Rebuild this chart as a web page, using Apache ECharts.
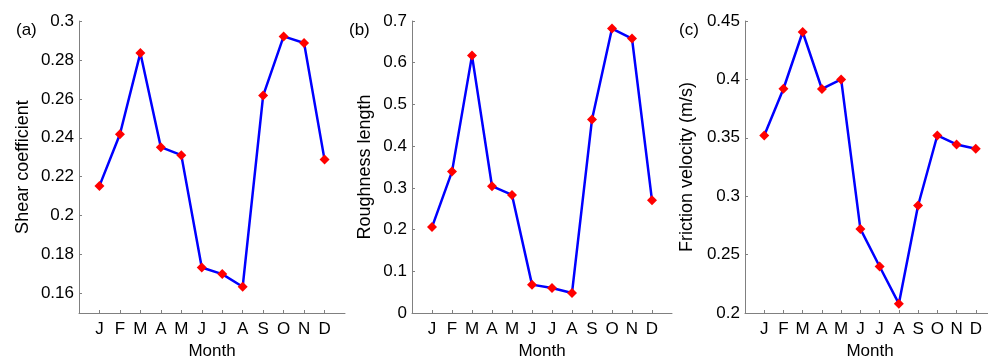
<!DOCTYPE html>
<html>
<head>
<meta charset="utf-8">
<script src="https://cdn.jsdelivr.net/npm/echarts@6/dist/echarts.min.js"></script>
<style>
  html, body { margin: 0; padding: 0; background: #fff; }
  #chart { width: 988px; height: 357px; }
</style>
</head>
<body>
<div id="chart"></div>
<script>
// month index 1..12 on a 0..13 axis, like the MATLAB figure
const months = ['J', 'F', 'M', 'A', 'M', 'J', 'J', 'A', 'S', 'O', 'N', 'D'];
const monthPos = [1, 2, 3, 4, 5, 6, 7, 8, 9, 10, 11, 12];

const shearCoef = [0.2153, 0.2418, 0.2836, 0.2352, 0.2311, 0.1734, 0.1700, 0.1635, 0.2617, 0.2921, 0.2887, 0.2288];
const roughness = [0.206, 0.339, 0.617, 0.304, 0.283, 0.068, 0.060, 0.048, 0.464, 0.682, 0.658, 0.270];
const frictionVel = [0.352, 0.392, 0.4406, 0.3918, 0.400, 0.272, 0.2398, 0.208, 0.292, 0.352, 0.3443, 0.3406];

const shearTicks = [0.16, 0.18, 0.2, 0.22, 0.24, 0.26, 0.28, 0.3];
const roughTicks = [0, 0.1, 0.2, 0.3, 0.4, 0.5, 0.6, 0.7];
const fricTicks = [0.2, 0.25, 0.3, 0.35, 0.4, 0.45];

const FONT = 'Liberation Sans, Arial, sans-serif';
const AXIS_COLOR = '#808080';

const chart = echarts.init(document.getElementById('chart'));

function xAxisFor(idx) {
  return {
    type: 'value',
    gridIndex: idx,
    min: 0,
    max: 13,
    name: 'Month',
    nameLocation: 'middle',
    nameGap: 28,
    nameTextStyle: { color: '#000', fontSize: 17, fontFamily: FONT },
    axisLine: { lineStyle: { color: AXIS_COLOR, width: 1 } },
    axisTick: { inside: true, length: 3, lineStyle: { color: AXIS_COLOR }, customValues: monthPos },
    axisLabel: {
      color: '#000', fontSize: 17, fontFamily: FONT, margin: 8,
      customValues: monthPos,
      formatter: (v) => months[Math.round(v) - 1] || ''
    },
    splitLine: { show: false }
  };
}

function yAxisFor(idx, name, min, max, ticks, gap) {
  return {
    type: 'value',
    gridIndex: idx,
    min: min,
    max: max,
    name: name,
    nameLocation: 'middle',
    nameGap: gap,
    nameTextStyle: { color: '#000', fontSize: 18, fontFamily: FONT },
    axisLine: { show: true, lineStyle: { color: AXIS_COLOR, width: 1 } },
    axisTick: { show: true, inside: true, length: 3, lineStyle: { color: AXIS_COLOR }, customValues: ticks },
    axisLabel: { color: '#000', fontSize: 17, fontFamily: FONT, margin: 5, customValues: ticks },
    splitLine: { show: false }
  };
}

function seriesFor(idx, values) {
  return {
    type: 'line',
    xAxisIndex: idx,
    yAxisIndex: idx,
    data: values.map((v, i) => [monthPos[i], v]),
    lineStyle: { color: '#0000ff', width: 2.5 },
    itemStyle: { color: '#ff0000' },
    symbol: 'diamond',
    symbolSize: 10,
    animation: false,
    z: 3
  };
}

const option = {
  animation: false,
  backgroundColor: '#fff',
  title: [
    { text: '(a)', left: 11, top: 17, textStyle: { fontSize: 17, fontWeight: 'normal', color: '#000', fontFamily: FONT } },
    { text: '(b)', left: 344, top: 17, textStyle: { fontSize: 17, fontWeight: 'normal', color: '#000', fontFamily: FONT } },
    { text: '(c)', left: 674, top: 17, textStyle: { fontSize: 17, fontWeight: 'normal', color: '#000', fontFamily: FONT } }
  ],
  grid: [
    { left: 79, top: 21, width: 266, height: 292, outerBoundsMode: 'none' },
    { left: 412, top: 21, width: 260, height: 292, outerBoundsMode: 'none' },
    { left: 745, top: 21, width: 250, height: 292, outerBoundsMode: 'none' }
  ],
  xAxis: [xAxisFor(0), xAxisFor(1), xAxisFor(2)],
  yAxis: [
    yAxisFor(0, 'Shear coefficient', 0.15, 0.3, shearTicks, 47),
    yAxisFor(1, 'Roughness length', 0, 0.7, roughTicks, 38),
    yAxisFor(2, 'Friction velocity (m/s)', 0.2, 0.45, fricTicks, 49)
  ],
  series: [
    seriesFor(0, shearCoef),
    seriesFor(1, roughness),
    seriesFor(2, frictionVel)
  ]
};

chart.setOption(option);
</script>
</body>
</html>
